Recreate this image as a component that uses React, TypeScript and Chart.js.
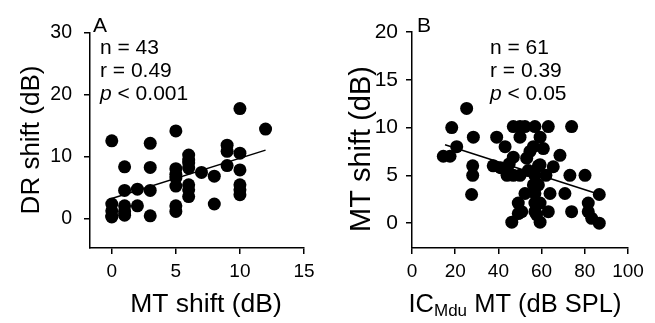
import React, { useEffect, useRef } from "react";
import { Chart, registerables } from "chart.js";

Chart.register(...registerables);

// ---------- Panel A data ----------
const aMT = [0, 0, 0, 0, 0, 1, 1, 1, 1, 1, 2, 2, 3, 3, 3, 3, 5, 5, 5, 5, 5, 5, 5, 6, 6, 6, 6, 6, 6, 6, 7, 8, 8, 9, 9, 9, 10, 10, 10, 10, 10, 10, 12];
const aDR = [12.6, 2.4, 1.3, 0.5, 0.3, 8.4, 4.6, 2.1, 1.2, 0.6, 4.8, 2.1, 12.2, 8.3, 4.6, 0.5, 14.2, 8.1, 7.2, 6.6, 5.3, 2.1, 1.2, 10.3, 9.5, 9.0, 8.2, 5.5, 4.7, 3.6, 7.5, 6.9, 2.4, 11.9, 10.9, 8.6, 17.8, 10.6, 7.9, 5.5, 4.7, 3.9, 14.5];
const aFitX = [0, 12];
const aFitY = [3.3, 11.1];
const aXTicks = [0, 5, 10, 15];
const aYTicks = [0, 10, 20, 30];
const aStats = ["n = 43", "r = 0.49", "< 0.001"];

// ---------- Panel B data ----------
const bIC = [14.5, 17.6, 18.4, 20.7, 25.3, 28.4, 28.1, 28.1, 27.6, 37.6, 39.2, 41.0, 43.1, 46.9, 50.0, 52.3, 56.9, 63.1, 73.9, 50.0, 59.3, 46.9, 53.1, 60.8, 68.5, 46.9, 50.0, 53.8, 44.0, 59.3, 65.4, 56.9, 73.1, 80.1, 56.2, 58.5, 52.3, 56.9, 63.9, 70.8, 86.7, 49.2, 59.3, 81.6, 49.2, 50.8, 56.9, 63.1, 73.9, 81.6, 46.2, 59.3, 83.2, 86.7, 56.2, 58.5, 56.9, 54.6, 62.0, 45.0, 57.7];
const bMT = [7.0, 7.0, 10.0, 8.0, 12.0, 9.0, 6.0, 5.0, 3.0, 6.0, 9.0, 5.8, 8.0, 10.1, 10.1, 10.1, 10.1, 10.1, 10.1, 9.0, 9.0, 6.9, 6.8, 7.8, 7.1, 5.0, 5.0, 5.5, 5.0, 6.1, 5.9, 5.0, 5.0, 5.0, 4.0, 4.0, 3.1, 3.1, 3.1, 3.1, 3.0, 2.1, 2.1, 2.1, 1.0, 1.2, 1.2, 1.2, 1.2, 1.2, 0.1, 0.1, 0.5, 0.0, 8.0, 6.0, 2.1, 7.5, 5.0, 6.2, 0.9];
const bFitX = [15.3, 85.5];
const bFitY = [8.2, 3.1];
const bXTicks = [0, 20, 40, 60, 80, 100];
const bYTicks = [0, 5, 10, 15, 20];
const bStats = ["n = 61", "r = 0.39", "< 0.05"];

const FONT = "'Liberation Sans', Arial, sans-serif";

type PanelCfg = {
  left: number;
  width: number;
  xs: number[];
  ys: number[];
  fitX: number[];
  fitY: number[];
  xMin: number;
  xMax: number;
  yMin: number;
  yMax: number;
  xTicks: number[];
  yTicks: number[];
  yAxisWidth: number;
  yTickSize: number;
  yTickPad: number;
  pad: { top: number; right: number };
  letter: string;
  letterDx: number;
  stats: string[];
  statsDx: number;
  yTitle: string;
  yTitleX: number;
  yTitleY: number;
  yTitleSize: number;
  xTitleCenter: number; // in canvas px
  xTitleSize: number;
  subTitle: boolean;
  xTitle: string;
};

function makeChart(canvas: HTMLCanvasElement, c: PanelCfg) {
  const pts = c.xs.map((x, i) => ({ x, y: c.ys[i] }));
  const fit = c.fitX.map((x, i) => ({ x, y: c.fitY[i] }));

  const textPlugin = {
    id: "texts",
    afterDraw(chart: any) {
      const ctx = chart.ctx as CanvasRenderingContext2D;
      const a = chart.chartArea;
      ctx.save();
      ctx.fillStyle = "#000";
      ctx.textBaseline = "alphabetic";
      // panel letter
      ctx.font = `21px ${FONT}`;
      ctx.textAlign = "left";
      ctx.fillText(c.letter, a.left + c.letterDx, 32);
      // stats
      const sx = a.left + c.statsDx;
      ctx.fillText(c.stats[0], sx, 54);
      ctx.fillText(c.stats[1], sx, 77);
      ctx.font = `italic 21px ${FONT}`;
      ctx.fillText("p", sx, 100);
      const pw = ctx.measureText("p ").width;
      ctx.font = `21px ${FONT}`;
      ctx.fillText(c.stats[2], sx + pw, 100);

      // y title
      ctx.save();
      ctx.font = `${c.yTitleSize}px ${FONT}`;
      ctx.textAlign = "center";
      ctx.textBaseline = "middle";
      ctx.translate(c.yTitleX, c.yTitleY);
      ctx.rotate(-Math.PI / 2);
      ctx.fillText(c.yTitle, 0, 0);
      ctx.restore();

      // x title
      ctx.textBaseline = "middle";
      const ty = 305;
      const fs = c.xTitleSize;
      if (!c.subTitle) {
        ctx.font = `${fs}px ${FONT}`;
        ctx.textAlign = "center";
        ctx.fillText(c.xTitle, c.xTitleCenter, ty);
      } else {
        const ss = Math.round(fs * 0.65);
        ctx.textAlign = "left";
        ctx.font = `${fs}px ${FONT}`;
        const w1 = ctx.measureText("IC").width;
        const w3 = ctx.measureText(" MT (dB SPL)").width;
        ctx.font = `${ss}px ${FONT}`;
        const w2 = ctx.measureText("Mdu").width;
        const total = w1 + w2 + w3;
        let x = c.xTitleCenter - total / 2;
        ctx.font = `${fs}px ${FONT}`;
        ctx.fillText("IC", x, ty);
        x += w1;
        ctx.font = `${ss}px ${FONT}`;
        ctx.fillText("Mdu", x, ty + 6);
        x += w2;
        ctx.font = `${fs}px ${FONT}`;
        ctx.fillText(" MT (dB SPL)", x, ty);
      }
      ctx.restore();
    },
  };

  const axisCommon = {
    border: { display: true, color: "#000", width: 1.5 },
    grid: {
      display: true,
      drawOnChartArea: false,
      drawTicks: true,
      tickLength: 6,
      color: "#000",
      tickColor: "#000",
      lineWidth: 1.5,
    },
  };

  return new Chart(canvas, {
    type: "scatter",
    data: {
      datasets: [
        {
          type: "scatter",
          data: pts,
          backgroundColor: "#000",
          borderColor: "#000",
          borderWidth: 0,
          pointRadius: 6.5,
        },
        {
          type: "line",
          data: fit,
          borderColor: "#000",
          borderWidth: 1.5,
          pointRadius: 0,
          fill: false,
        },
      ],
    } as any,
    options: {
      animation: false,
      responsive: false,
      layout: { padding: { left: 0, top: c.pad.top, right: c.pad.right, bottom: 0 } },
      plugins: { legend: { display: false }, tooltip: { enabled: false } },
      scales: {
        x: {
          type: "linear",
          min: c.xMin,
          max: c.xMax,
          afterBuildTicks: (s: any) => {
            s.ticks = c.xTicks.map((v) => ({ value: v }));
          },
          afterFit: (s: any) => {
            s.height = 75;
          },
          ...axisCommon,
          ticks: {
            color: "#000",
            font: { family: FONT, size: 19 },
            padding: 6,
            maxRotation: 0,
            autoSkip: false,
          },
        },
        y: {
          type: "linear",
          min: c.yMin,
          max: c.yMax,
          afterBuildTicks: (s: any) => {
            s.ticks = c.yTicks.map((v) => ({ value: v }));
          },
          afterFit: (s: any) => {
            s.width = c.yAxisWidth;
          },
          ...axisCommon,
          ticks: {
            color: "#000",
            font: { family: FONT, size: c.yTickSize },
            padding: c.yTickPad,
            autoSkip: false,
          },
        },
      },
    } as any,
    plugins: [textPlugin],
  });
}

const panelA: PanelCfg = {
  left: 0,
  width: 328,
  xs: aMT,
  ys: aDR,
  fitX: aFitX,
  fitY: aFitY,
  xMin: -1.7,
  xMax: 15,
  yMin: -4.7,
  yMax: 30,
  xTicks: aXTicks,
  yTicks: aYTicks,
  yAxisWidth: 90,
  yTickSize: 19.5,
  yTickPad: 12,
  pad: { top: 33, right: 24 },
  letter: "A",
  letterDx: 3,
  stats: aStats,
  statsDx: 10,
  yTitle: "DR shift (dB)",
  yTitleX: 32,
  yTitleY: 140,
  yTitleSize: 26,
  xTitleCenter: 206,
  xTitleSize: 26.5,
  subTitle: false,
  xTitle: "MT shift (dB)",
};

const panelB: PanelCfg = {
  left: 328,
  width: 327,
  xs: bIC,
  ys: bMT,
  fitX: bFitX,
  fitY: bFitY,
  xMin: 0,
  xMax: 100,
  yMin: -2.6,
  yMax: 20,
  xTicks: bXTicks,
  yTicks: bYTicks,
  yAxisWidth: 84,
  yTickSize: 21,
  yTickPad: 8,
  pad: { top: 32, right: 27 },
  letter: "B",
  letterDx: 5,
  stats: bStats,
  statsDx: 78,
  yTitle: "MT shift (dB)",
  yTitleX: 362 - 328,
  yTitleY: 149,
  yTitleSize: 29,
  xTitleCenter: 515 - 328,
  xTitleSize: 25.5,
  subTitle: true,
  xTitle: "",
};

function Panel({ cfg }: { cfg: PanelCfg }) {
  const ref = useRef<HTMLCanvasElement | null>(null);
  useEffect(() => {
    if (!ref.current) return;
    const ch = makeChart(ref.current, cfg);
    return () => ch.destroy();
  }, [cfg]);
  return (
    <canvas
      ref={ref}
      width={cfg.width}
      height={323}
      style={{ position: "absolute", left: cfg.left, top: 0, width: cfg.width, height: 323, display: "block" }}
    />
  );
}

export default function App() {
  return (
    <div style={{ position: "absolute", left: 0, top: 0, width: 655, height: 323, background: "#fff", overflow: "hidden" }}>
      <Panel cfg={panelA} />
      <Panel cfg={panelB} />
    </div>
  );
}
